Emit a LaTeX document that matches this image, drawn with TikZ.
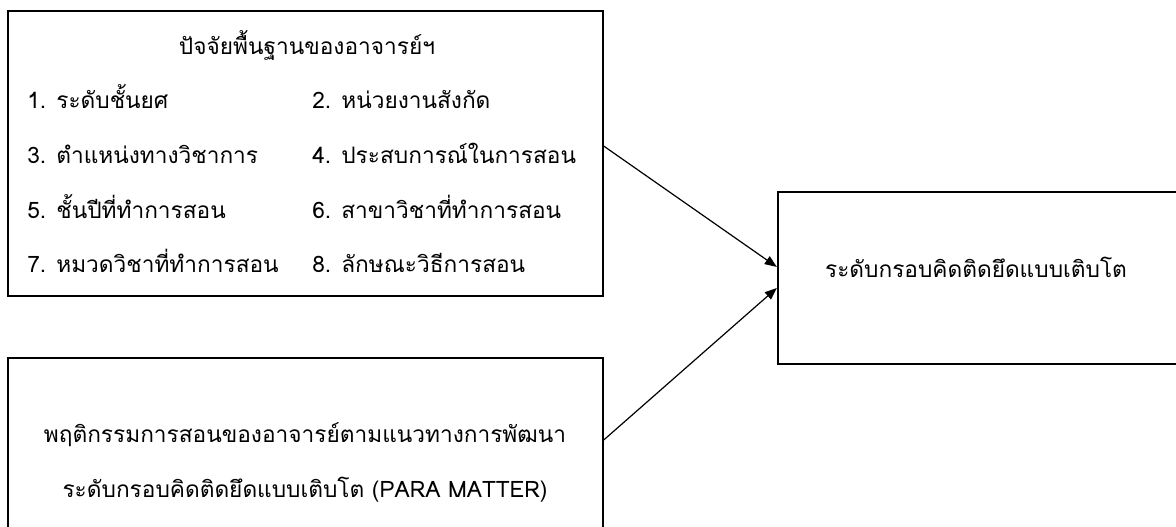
\documentclass[tikz,border=0pt]{standalone}
\usepackage{fontspec}
\setmainfont[Script=Thai]{Loma}
\usetikzlibrary{arrows.meta}

\tikzset{
  box/.style={draw, line width=1.3pt, inner sep=0pt},
  label/.style={inner sep=0pt, anchor=base},
  item/.style={inner sep=0pt, anchor=base west},
  link/.style={-{Triangle[length=9pt,width=7pt]}, line width=0.9pt}
}

\begin{document}
\begin{tikzpicture}[x=0.75pt, y=-0.75pt, font=\fontsize{17}{20}\selectfont]
\useasboundingbox (0,0) rectangle (1176,526);

% Boxes
\node[box, minimum width=446pt, minimum height=214pt] (factors) at (305.5,153.5) {};
\node[box, minimum width=446pt, minimum height=129pt] (behaviour) at (305.5,444) {};
\node[box, minimum width=302pt, minimum height=129pt] (mindset) at (979,278) {};

% Teacher background factors
\node[label] (title) at (307,54) {ปัจจัยพื้นฐานของอาจารย์ฯ};
\node[item] (item1) at (27,108) {1. ระดับชั้นยศ};
\node[item] (item2) at (312,108) {2. หน่วยงานสังกัด};
\node[item] (item3) at (27,163) {3. ตำแหน่งทางวิชาการ};
\node[item] (item4) at (312,163) {4. ประสบการณ์ในการสอน};
\node[item] (item5) at (27,218) {5. ชั้นปีที่ทำการสอน};
\node[item] (item6) at (312,218) {6. สาขาวิชาที่ทำการสอน};
\node[item] (item7) at (27,272) {7. หมวดวิชาที่ทำการสอน};
\node[item] (item8) at (312,272) {8. ลักษณะวิธีการสอน};

% Teaching behaviour
\node[label] (line1) at (305,442) {พฤติกรรมการสอนของอาจารย์ตามแนวทางการพัฒนา};
\node[label] (line2) at (305,497) {ระดับกรอบคิดติดยึดแบบเติบโต (PARA MATTER)};

% Outcome
\node[label] (outcome) at (976,277) {ระดับกรอบคิดติดยึดแบบเติบโต};

% Arrows
\draw[link] ([yshift=5.6pt]factors.east) -- ([yshift=8.3pt]mindset.west);
\draw[link] ([yshift=3pt]behaviour.east) -- ([yshift=-7.5pt]mindset.west);

\end{tikzpicture}
\end{document}
